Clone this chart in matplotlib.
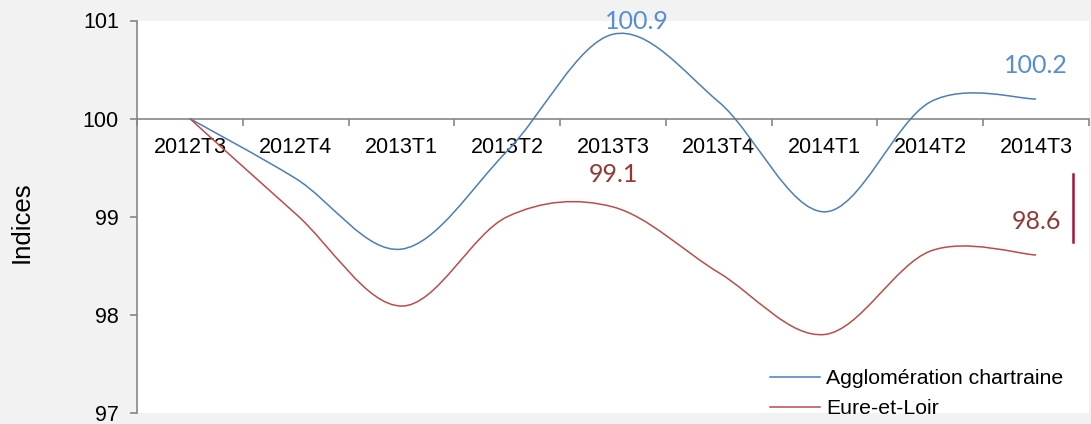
import matplotlib
matplotlib.use("Agg")
import matplotlib.pyplot as plt
from matplotlib.path import Path
from matplotlib.patches import PathPatch
from matplotlib.lines import Line2D
import numpy as np

# data
quarters = ['2012T3', '2012T4', '2013T1', '2013T2', '2013T3',
            '2013T4', '2014T1', '2014T2', '2014T3']
agglo = [100.0, 99.39, 98.67, 99.67, 100.86, 100.17, 99.05, 100.17, 100.2]
eure = [100.0, 99.03, 98.09, 99.0, 99.1, 98.43, 97.8, 98.65, 98.61]
series_names = ['Agglomération chartraine', 'Eure-et-Loir']

BLUE = '#4A7EBB'
RED = '#BE4B48'
BLUE_TXT = '#558ED5'
RED_TXT = '#953735'
AXIS = '#868686'


def smooth_path(xs, ys):
    """Excel-style smoothed line: cubic Bezier through every point"""
    pts = np.column_stack([xs, ys]).astype(float)
    n = len(pts)
    verts = [pts[0]]
    codes = [Path.MOVETO]
    for i in range(n - 1):
        p_prev = pts[i - 1] if i > 0 else pts[i]
        p_next = pts[i + 2] if i + 2 < n else pts[i + 1]
        c1 = pts[i] + (pts[i + 1] - p_prev) / 6.0
        c2 = pts[i + 1] - (p_next - pts[i]) / 6.0
        verts += [c1, c2, pts[i + 1]]
        codes += [Path.CURVE4] * 3
    return Path(verts, codes)


fig = plt.figure(figsize=(10.91, 4.24), dpi=100, facecolor='#f2f2f2')
ax = fig.add_axes([137 / 1091, 1 - 413 / 424, 952 / 1091, 392.5 / 424])
ax.set_facecolor('white')

x = np.arange(len(quarters))
for vals, col in [(agglo, BLUE), (eure, RED)]:
    ax.add_patch(PathPatch(smooth_path(x, vals), fill=False,
                           edgecolor=col, lw=1.1, zorder=3))

ax.set_xlim(-0.5, len(quarters) - 0.5)
ax.set_ylim(97, 101)

# axes styling
for side in ['top', 'right']:
    ax.spines[side].set_visible(False)
ax.spines['bottom'].set_position(('data', 100))
ax.spines['bottom'].set_color(AXIS)
ax.spines['left'].set_color(AXIS)
ax.spines['bottom'].set_linewidth(1.2)
ax.spines['left'].set_linewidth(1.2)

ax.set_yticks([97, 98, 99, 100, 101])
ax.tick_params(axis='y', direction='out', length=5, width=1.2,
               color=AXIS, pad=8, labelsize=15.5, labelcolor='black')

ax.set_xticks(np.arange(len(quarters) + 1) - 0.5)
ax.set_xticklabels([])
ax.tick_params(axis='x', which='major', direction='out', length=5,
               width=1.2, color=AXIS)
ax.set_xticks(x, minor=True)
ax.set_xticklabels(quarters, minor=True)
ax.tick_params(axis='x', which='minor', length=0, pad=13,
               labelsize=15.5, labelcolor='black')

for lab in ax.get_xticklabels(minor=True) + ax.get_yticklabels():
    lab.set_family('Liberation Sans')

fig.text(22 / 1091, 1 - 222 / 424, 'Indices', rotation=90,
         ha='center', va='center', fontsize=18.5, family='Liberation Sans')

# value labels
ax.text(4.226, 100.915, '100.9', color=BLUE_TXT, ha='center',
        va='baseline', fontsize=18, family='Lato')
ax.text(8, 100.467, '100.2', color=BLUE_TXT, ha='center',
        va='baseline', fontsize=18, family='Lato')
ax.text(4, 99.356, '99.1', color=RED_TXT, ha='center',
        va='baseline', fontsize=18, family='Lato')
ax.text(8, 98.878, '98.6', color=RED_TXT, ha='center',
        va='baseline', fontsize=18, family='Lato')

# marker bar next to the last value
ax.plot([8.347, 8.347], [99.44, 98.745], color='#AA1040', lw=1.8,
        clip_on=False, zorder=4)

handles = [Line2D([], [], color=BLUE, lw=1.1),
           Line2D([], [], color=RED, lw=1.1)]
ax.legend(handles, series_names, loc='upper left',
          bbox_to_anchor=((770 - 137) / 952, (413 - 369) / 392.5),
          frameon=False, handlelength=2.35, handletextpad=0.3,
          labelspacing=0.53, borderpad=0, borderaxespad=0,
          prop={'family': 'Liberation Sans', 'size': 15.3})

fig.savefig('out.png', dpi=100, facecolor=fig.get_facecolor())
